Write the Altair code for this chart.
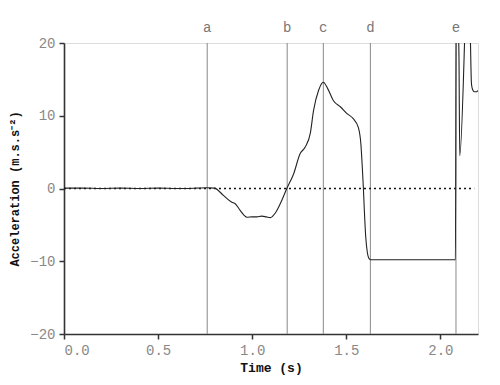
import altair as alt
import pandas as pd

# Curve data (time in s, acceleration in m.s.s^-2)
t = [0.0, 0.1, 0.2, 0.3, 0.4, 0.5, 0.6, 0.7, 0.76, 0.80, 0.847, 0.892, 0.91, 0.936,
     0.972, 1.0, 1.025, 1.05, 1.075, 1.096, 1.122, 1.149, 1.184, 1.22, 1.255, 1.282,
     1.309, 1.326, 1.353, 1.378, 1.40, 1.431, 1.47, 1.504, 1.537, 1.564, 1.578, 1.585,
     1.591, 1.596, 1.603, 1.612, 1.62, 1.628, 2.080, 2.0845, 2.0975, 2.099, 2.103,
     2.129, 2.135, 2.155, 2.160, 2.165, 2.169, 2.18, 2.195, 2.198]
v = [0.05, 0.05, 0.0, 0.05, 0.0, 0.05, 0.0, 0.05, 0.1, 0.05, -0.95, -1.9, -2.1, -3.0,
     -3.95, -3.9, -3.9, -3.8, -3.9, -4.0, -3.4, -2.1, 0.0, 2.0, 4.8, 5.7,
     7.6, 10.7, 13.5, 14.6, 13.8, 12.1, 11.2, 10.3, 9.6, 8.4, 6.0, 3.0,
     0.0, -3.0, -6.5, -8.8, -9.6, -9.8, -9.8, 26, 20.5, 17.8, 4.5,
     20.5, 26, 26, 20, 14.5, 13.8, 13.3, 13.3, 13.5]

# Event markers
event_labels = ["a", "b", "c", "d", "e"]
event_times = [0.761, 1.186, 1.378, 1.628, 2.083]

x_ticks = [0.0, 0.5, 1.0, 1.5, 2.0]
y_ticks = [-20, -10, 0, 10, 20]

curve = pd.DataFrame({"t": t, "v": v})
events = pd.DataFrame({"label": event_labels, "t": event_times})
zero = pd.DataFrame({"t": [0.0], "t2": [2.18], "v": [0.0]})

FONT = "Liberation Mono"

xscale = alt.Scale(domain=[0, 2.2], nice=False, zero=False)
yscale = alt.Scale(domain=[-20, 20], nice=False)

xaxis = alt.Axis(values=x_ticks, format=".1f", title="Time (s)", grid=False,
                 domainColor="#333", domainWidth=1.6, tickColor="#333", tickWidth=1.5,
                 tickSize=5, labelColor="#888",
                 labelFont=FONT, labelFontSize=14, labelPadding=4,
                 titleFont=FONT, titleFontSize=13, titleFontWeight="bold",
                 titleColor="#111", titlePadding=4)
yaxis = alt.Axis(values=y_ticks, title="Acceleration (m.s.s⁻²)", grid=False,
                 domainColor="#333", domainWidth=1.6, tickColor="#333", tickWidth=1.5,
                 tickSize=5, labelColor="#888",
                 labelFont=FONT, labelFontSize=14, labelPadding=4,
                 titleFont=FONT, titleFontSize=12, titleFontWeight="bold",
                 titleColor="#111", titlePadding=8)

base_rules = alt.Chart(events).mark_rule(color="#888", strokeWidth=1).encode(
    x=alt.X("t:Q", scale=xscale, axis=xaxis),
    y=alt.value(0),
    y2=alt.value(291),
)

labels = alt.Chart(events).mark_text(font=FONT, fontSize=14, color="#777",
                                     baseline="bottom").encode(
    x=alt.X("t:Q", scale=xscale),
    y=alt.value(-8),
    text="label:N",
)

zline = alt.Chart(zero).mark_rule(color="#111", strokeWidth=1.6,
                                  strokeDash=[2, 3]).encode(
    x=alt.X("t:Q", scale=xscale),
    x2="t2:Q",
    y=alt.Y("v:Q", scale=yscale, axis=yaxis),
)

line = alt.Chart(curve).mark_line(color="#222", strokeWidth=1.1, clip=True,
                                  interpolate="monotone").encode(
    x=alt.X("t:Q", scale=xscale),
    y=alt.Y("v:Q", scale=yscale, axis=yaxis),
    order="t:Q",
)

chart = alt.layer(base_rules, zline, line, labels).properties(
    width=414, height=291,
    autosize=alt.AutoSizeParams(type="none"),
    padding={"left": 56, "top": 35, "right": 14, "bottom": 42},
).configure_view(stroke=None).configure(background="white")

chart.save("out.html", embed_options={"renderer": "svg", "actions": False})
